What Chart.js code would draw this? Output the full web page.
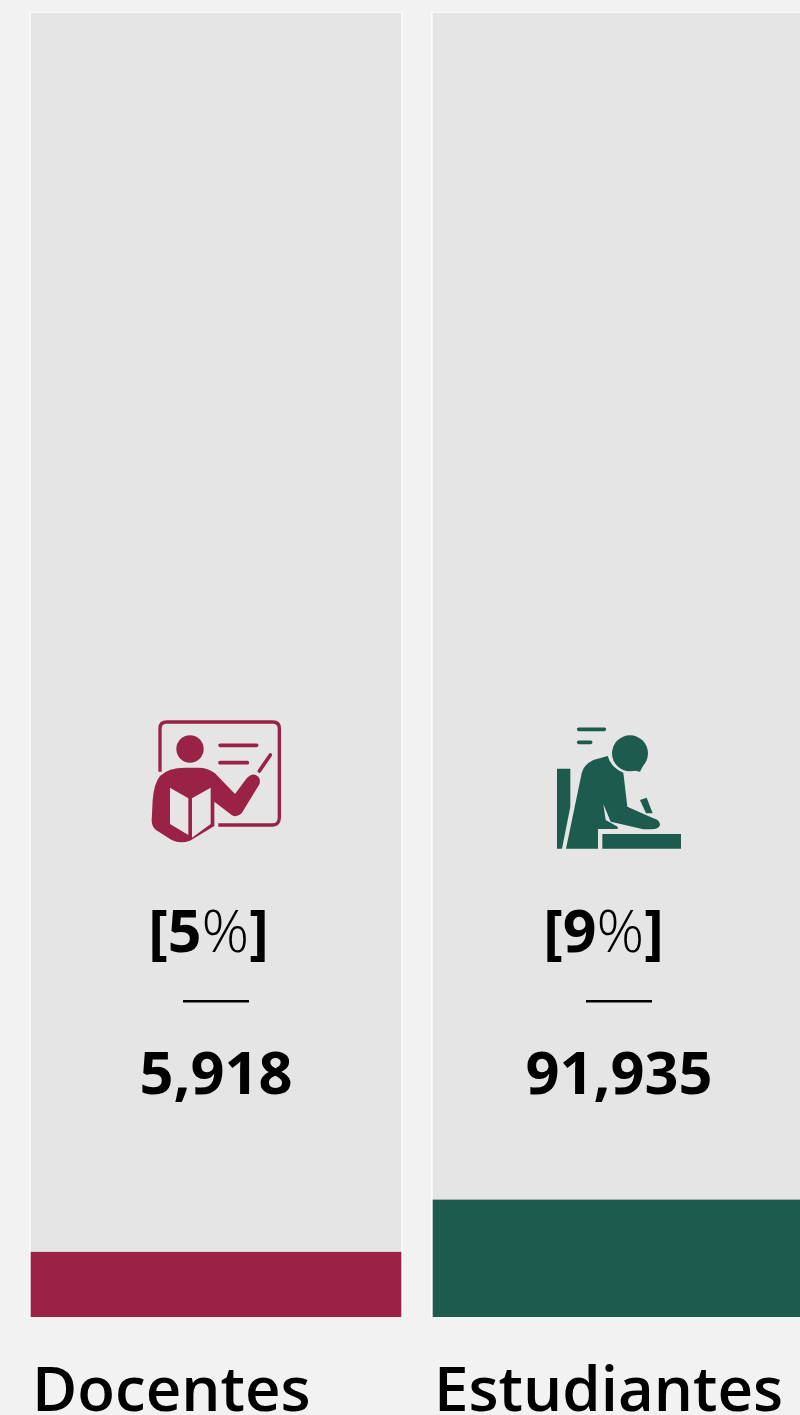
<!DOCTYPE html>
<html><head><meta charset="utf-8">
<script src="https://cdn.jsdelivr.net/npm/chart.js@4"></script>
<style>html,body{margin:0;padding:0;background:#f2f2f2;overflow:hidden;width:800px;height:1415px}canvas{display:block}</style>
</head><body><canvas id="c" width="840" height="1415"></canvas>
<script>
const categories = ["Docentes", "Estudiantes"];
const percents = [5, 9];
const counts = [5918, 91935];
const track = [100, 100];
const colors = ["#9b2247", "#1e5b4f"];
const PANEL = "#e5e5e5";
const percentNudge = [-9, -16];
const countNudge = [0, 1];

const icons = [
  { ox: -86, oy: 700, fill(ctx) {
      const s = new Path2D("M90 215V85Q90 66 110 66H428Q448 66 448 85V352Q448 375 428 375H265");
      ctx.lineWidth = 10; ctx.stroke(s);
      ctx.lineCap = "round"; ctx.lineWidth = 11;
      ctx.stroke(new Path2D("M270 136H380M270 188H352M388 213L421 165"));
      ctx.beginPath(); ctx.arc(180,147,41,0,Math.PI*2); ctx.fill();
      ctx.fill(new Path2D("M65 360L68 300Q72 250 90 228Q115 203 165 203H205Q235 203 255 220L315 282L350 235Q368 215 385 230Q395 243 385 258L335 340Q320 354 305 345L253 305V378L180 422Q150 432 125 420L78 390Q65 380 65 360Z"));
      ctx.fillStyle = PANEL;
      ctx.fill(new Path2D("M120 263L175 295V405L120 372ZM186 295L242 263V372L186 413Z"));
  }},
  { ox: -78, oy: 710, fill(ctx) {
      ctx.lineCap = "round"; ctx.lineWidth = 11;
      ctx.stroke(new Path2D("M116 58H193M116 97H152"));
      ctx.beginPath(); ctx.arc(270,130,54,0,Math.PI*2); ctx.fill();
      ctx.fill(new Path2D("M250 175L300 185L318 150Z"));
      ctx.fill(new Path2D("M51 176H91V290L66 416H51Z"));
      ctx.fill(new Path2D("M78 416L125 190Q130 165 160 150L203 138Q212 172 250 188L262 290L340 325Q360 330 360 345Q355 358 335 358H310L212 335L190 282L197 330L233 350V357H174V416Z"));
      ctx.fill(new Path2D("M300 270L320 263L338 310H318Z"));
      ctx.fill(new Path2D("M187 372H423V416H187Z"));
  }}
];

const FONT = '"Open Sans"';
const overlay = {
  id: "overlay",
  afterDatasetsDraw(chart) {
    const ctx = chart.ctx, xs = chart.scales.x;
    categories.forEach((cat, i) => {
      const cx = xs.getPixelForValue(i);
      ctx.save();
      ctx.translate(cx + icons[i].ox, icons[i].oy);
      ctx.scale(1/3, 1/3);
      ctx.fillStyle = colors[i]; ctx.strokeStyle = colors[i];
      icons[i].fill(ctx);
      ctx.restore();
      ctx.save();
      ctx.fillStyle = "#000"; ctx.textBaseline = "alphabetic"; ctx.textAlign = "left";
      const parts = [["[",700],[String(percents[i]),700],["%",300],["]",700]];
      const fs = 59;
      let w = 0;
      parts.forEach(p => { ctx.font = `${p[1]} ${fs}px ${FONT}`; w += ctx.measureText(p[0]).width; });
      let x = cx + 1.5 + percentNudge[i] - w/2;
      parts.forEach(p => { ctx.font = `${p[1]} ${fs}px ${FONT}`; ctx.fillText(p[0], x, 952); x += ctx.measureText(p[0]).width; });
      ctx.fillRect(cx + countNudge[i] - 33, 1000, 66, 2.5);
      ctx.textAlign = "center";
      ctx.font = `700 59.5px ${FONT}`;
      ctx.fillText(counts[i].toLocaleString("en-US"), cx + countNudge[i], 1094);
      ctx.restore();
    });
  }
};

new Chart(document.getElementById("c"), {
  type: "bar",
  data: {
    labels: categories,
    datasets: [
      { data: percents, backgroundColor: colors, barThickness: 373, grouped: false, order: 1,
        borderColor: "#ffffff", borderWidth: {top:0,left:1.5,right:1.5,bottom:1} },
      { data: track, backgroundColor: PANEL, barThickness: 373, grouped: false, order: 2,
        borderColor: "#ffffff", borderWidth: 1.5 }
    ]
  },
  options: {
    responsive: false, animation: false,
    layout: { padding: { left: 15, right: 21, top: 11.5, bottom: 0 } },
    plugins: { legend: { display: false }, tooltip: { enabled: false } },
    scales: {
      y: { display: false, min: 0, max: 100 },
      x: {
        grid: { display: false }, border: { display: false },
        afterFit(s) { s.height = 98; s.paddingLeft = 0; s.paddingRight = 0; },
        ticks: { autoSkip: false, maxRotation: 0, minRotation: 0, align: "start", labelOffset: -184, padding: 31,
          color: "#000", font: { family: "Open Sans", size: 61.8, weight: 600 } }
      }
    }
  },
  plugins: [overlay]
});
</script></body></html>
